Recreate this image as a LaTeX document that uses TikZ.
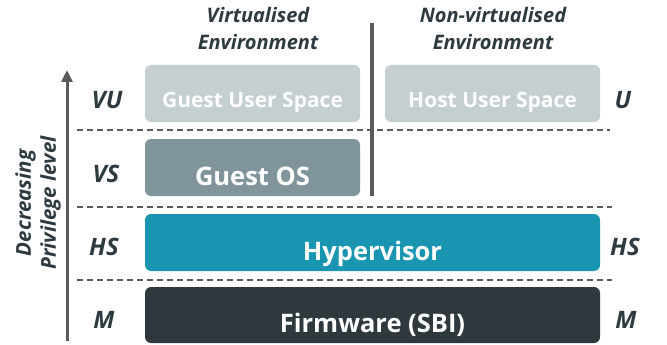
\documentclass[tikz,border=0pt]{standalone}
\usepackage{fontspec}
\setmainfont{Open Sans}
\usetikzlibrary{arrows.meta}

\definecolor{userbox}{HTML}{C5CED1}
\definecolor{osbox}{HTML}{80959B}
\definecolor{hvbox}{HTML}{1995B1}
\definecolor{fwbox}{HTML}{2F393D}
\definecolor{inkdark}{HTML}{2E3A3F}
\definecolor{rulegray}{HTML}{5A5A5A}

\begin{document}
\begin{tikzpicture}[x=1pt,y=-1pt,
    layer/.style={rounded corners=6pt, minimum height=57pt, text=white,
      font=\bfseries\fontsize{25.5}{25.5}\selectfont, inner sep=0pt,
      text height=35pt, text depth=0pt},
    userlayer/.style={layer, fill=userbox, minimum width=215pt,
      font=\bfseries\fontsize{21}{21}\selectfont, text height=28pt},
    lvl/.style={text=inkdark, font=\bfseries\itshape\fontsize{24}{24}\selectfont},
    head/.style={text=inkdark, align=center,
      font=\bfseries\itshape\fontsize{20}{27}\selectfont},
    sep/.style={draw=rulegray, line width=1.4pt, dash pattern=on 6pt off 4pt}]
  \useasboundingbox (0,0) rectangle (667,345);

  % column headings
  \node[head] (virt) at (258,29) {Virtualised\\Environment};
  \node[head] (nonvirt) at (493,29) {Non-virtualised\\Environment};

  % layers
  \node[userlayer] (gus) at (252.5,93.5) {Guest User Space};
  \node[userlayer] (hus) at (492.5,93.5) {Host User Space};
  \node[layer, fill=osbox, minimum width=215pt] (gos) at (252.5,167.5) {Guest OS};
  \node[layer, fill=hvbox, minimum width=455pt] (hyp) at (372.5,242.5) {Hypervisor};
  \node[layer, fill=fwbox, minimum width=455pt, minimum height=56pt] (fw) at (372.5,315) {Firmware (SBI)};

  % privilege modes
  \node[lvl] (vu) at (107,100) {VU};
  \node[lvl] (vs) at (106,174) {VS};
  \node[lvl] (hsl) at (104,247) {HS};
  \node[lvl] (ml) at (104,320) {M};
  \node[lvl] (ur) at (623,100) {U};
  \node[lvl] (hsr) at (625,247) {HS};
  \node[lvl] (mr) at (626,320) {M};

  % separators
  \draw[sep] (77,130) -- (610,130);
  \draw[sep] (77,207) -- (612,207);
  \draw[sep] (77,280) -- (612,280);
  \coordinate (divtop) at (372,23);
  \coordinate (divbot) at (372,196);
  \draw[rulegray, line width=3.5pt] (divtop) -- (divbot);

  % privilege axis
  \coordinate (axbot) at (67,341);
  \coordinate (axtop) at (67,70);
  \draw[rulegray, line width=3pt, -{Triangle[length=12pt,width=11pt]}] (axbot) -- (axtop);
  \node[head, rotate=90, font=\bfseries\itshape\fontsize{20.5}{25}\selectfont] (priv) at (38,203)
    {Decreasing\\Privilege level};
\end{tikzpicture}
\end{document}
